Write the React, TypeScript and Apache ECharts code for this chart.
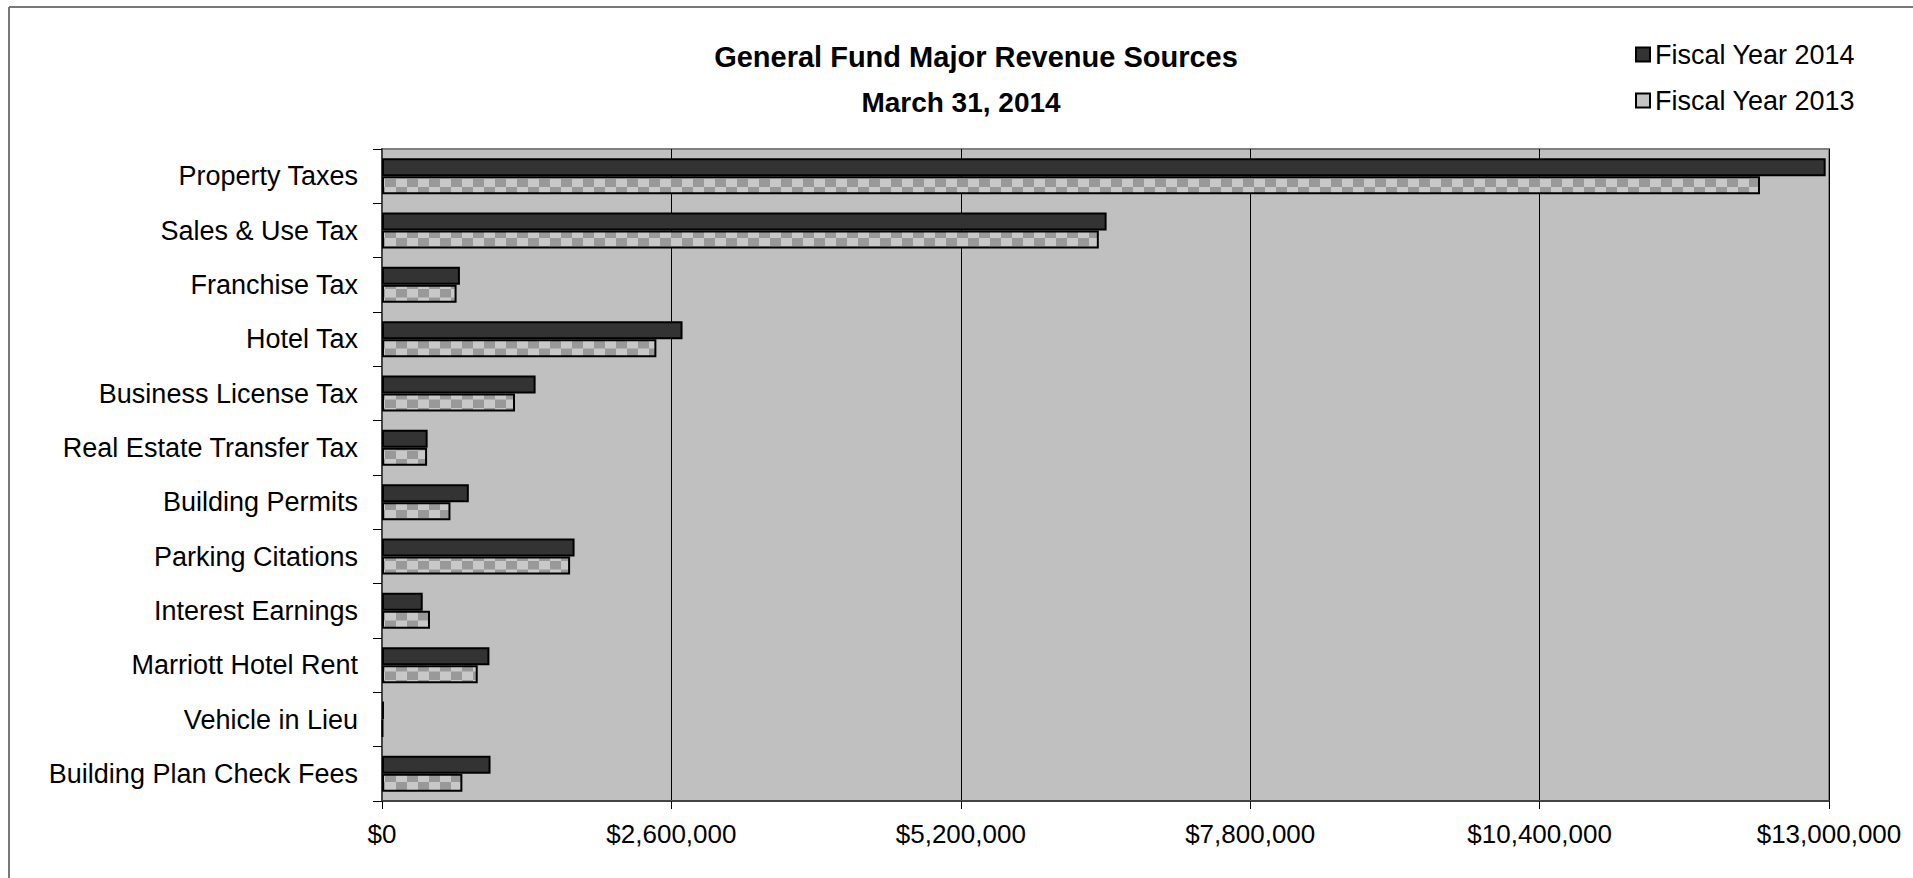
import React, { useEffect, useRef } from "react";
import * as echarts from "echarts";

const categories = [
  "Property Taxes",
  "Sales & Use Tax",
  "Franchise Tax",
  "Hotel Tax",
  "Business License Tax",
  "Real Estate Transfer Tax",
  "Building Permits",
  "Parking Citations",
  "Interest Earnings",
  "Marriott Hotel Rent",
  "Vehicle in Lieu",
  "Building Plan Check Fees",
];
const fy2014 = [12970000, 6510000, 700000, 2700000, 1380000, 410000, 780000, 1730000, 366000, 965000, 18000, 975000];
const fy2013 = [12380000, 6440000, 670000, 2465000, 1195000, 405000, 615000, 1690000, 431000, 860000, 9000, 722000];
const seriesNames = ["Fiscal Year 2014", "Fiscal Year 2013"];
const titleText = "General Fund Major Revenue Sources";
const subtitleText = "March 31, 2014";
const xMin = 0;
const xMax = 13000000;
const xInterval = 2600000;

const FONT = "'Liberation Sans', Arial, sans-serif";

function makeChecker(): HTMLCanvasElement {
  const c = document.createElement("canvas");
  c.width = 22;
  c.height = 17;
  const ctx = c.getContext("2d")!;
  ctx.fillStyle = "#c8c8c8";
  ctx.fillRect(0, 0, 22, 17);
  ctx.fillStyle = "#999999";
  ctx.fillRect(0, 0, 11, 8.5);
  ctx.fillRect(11, 8.5, 11, 8.5);
  return c;
}

export default function App() {
  const ref = useRef<HTMLDivElement>(null);
  useEffect(() => {
    if (!ref.current) return;
    const chart = echarts.init(ref.current, null, { renderer: "svg" });
    const checker = makeChecker();
    chart.setOption({
      animation: false,
      backgroundColor: "#ffffff",
      textStyle: { fontFamily: FONT },
      graphic: [
        { type: "line", shape: { x1: 9, y1: 7, x2: 9, y2: 900 }, style: { stroke: "#777777", lineWidth: 2 } },
        { type: "line", shape: { x1: 9, y1: 7, x2: 2000, y2: 7 }, style: { stroke: "#777777", lineWidth: 2 } },
        {
          type: "text",
          x: 976,
          y: 57,
          style: { text: titleText, fontSize: 29, fontWeight: "bold", fontFamily: FONT, fill: "#000", align: "center", verticalAlign: "middle" },
        },
        {
          type: "text",
          x: 961,
          y: 102,
          style: { text: subtitleText, fontSize: 28, fontWeight: "bold", fontFamily: FONT, fill: "#000", align: "center", verticalAlign: "middle" },
        },
      ],
      legend: {
        orient: "vertical",
        left: 1630,
        top: 36,
        padding: 5,
        icon: "rect",
        itemWidth: 14,
        itemHeight: 14,
        itemGap: 19,
        selectedMode: false,
        textStyle: { fontSize: 27, fontFamily: FONT, color: "#000" },
        data: [
          { name: seriesNames[0], itemStyle: { color: "#333333", borderColor: "#000", borderWidth: 2 } },
          { name: seriesNames[1], itemStyle: { color: "#c4c4c4", borderColor: "#000", borderWidth: 2 } },
        ],
      },
      grid: {
        left: 382,
        right: 84,
        top: 149,
        bottom: 77,
        show: true,
        backgroundColor: "#c0c0c0",
        borderColor: "#808080",
        borderWidth: 2,
      },
      xAxis: {
        type: "value",
        min: xMin,
        max: xMax,
        interval: xInterval,
        axisLine: { show: true, lineStyle: { color: "#444444", width: 2 } },
        axisTick: { show: true, length: 8, lineStyle: { color: "#000", width: 1 } },
        splitLine: { show: true, lineStyle: { color: "#000", width: 1 } },
        axisLabel: {
          fontSize: 26,
          fontFamily: FONT,
          color: "#000",
          margin: 20,
          formatter: (v: number) => "$" + v.toLocaleString("en-US"),
        },
      },
      yAxis: {
        type: "category",
        inverse: true,
        data: categories,
        axisLine: { show: true, lineStyle: { color: "#444444", width: 2 } },
        axisTick: { show: true, length: 9, lineStyle: { color: "#000", width: 1 } },
        axisLabel: { fontSize: 27, fontFamily: FONT, color: "#000", margin: 24 },
        splitLine: { show: false },
      },
      series: [
        {
          name: seriesNames[0],
          type: "bar",
          data: fy2014,
          barWidth: 18,
          barGap: "0%",
          itemStyle: { color: "#333333", borderColor: "#000", borderWidth: 2 },
        },
        {
          name: seriesNames[1],
          type: "bar",
          data: fy2013,
          barWidth: 18,
          barGap: "0%",
          itemStyle: { color: { image: checker, repeat: "repeat" }, borderColor: "#000", borderWidth: 2 },
        },
      ],
    });
    return () => chart.dispose();
  }, []);
  return <div ref={ref} style={{ position: "fixed", left: 0, top: 0, width: 1913, height: 878 }} />;
}
